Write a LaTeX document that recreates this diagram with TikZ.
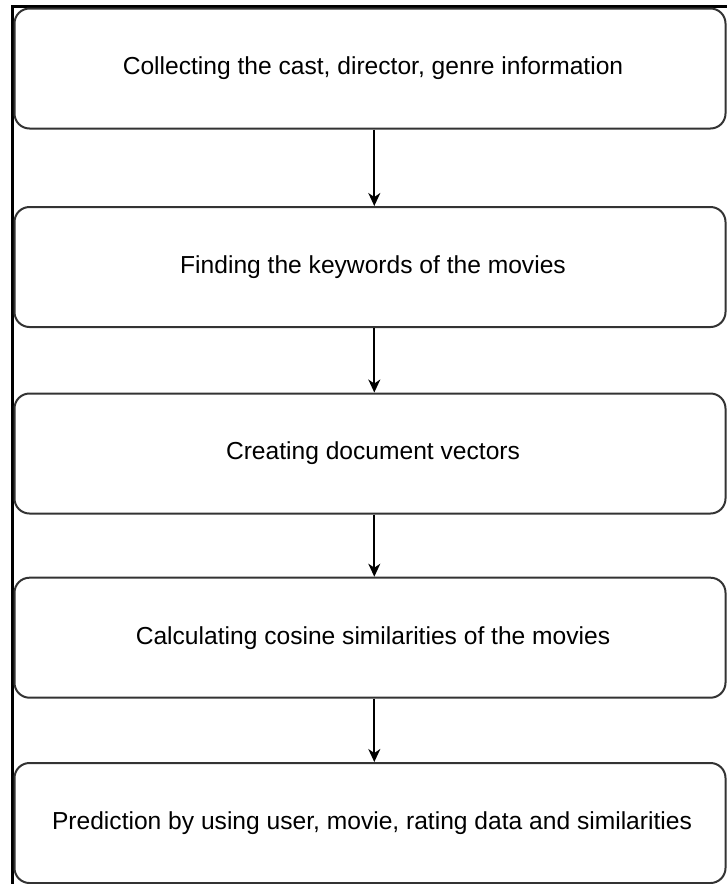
\documentclass[tikz,border=0pt]{standalone}
\usepackage{fontspec}
\setmainfont{Liberation Sans}
\usetikzlibrary{arrows.meta}
\begin{document}
\begin{tikzpicture}[x=1pt,y=-1pt,
  stepbox/.style={draw=black!80, line width=2pt, rounded corners=15pt,
    minimum width=711pt, minimum height=120pt, inner sep=0pt,
    font=\fontsize{24.6}{29}\selectfont},
  flow/.style={draw=black, line width=1.7pt,
    -{Stealth[length=13pt,width=12pt,inset=4pt]}},
  frameline/.style={draw=black, line width=2.8pt}]
  \useasboundingbox (0,0) rectangle (727,884);
  \fill[white] (0,0) rectangle (727,884);

  % outer frame (left and top edges)
  \coordinate (fb) at (12.7,886);
  \coordinate (ft) at (12.7,6.7);
  \coordinate (fr) at (728,6.7);
  \draw[frameline] (fb) -- (ft) -- (fr);

  % process steps
  \node[stepbox] (s1) at (370,68.5)  {\hspace*{6pt}Collecting the cast, director, genre information};
  \node[stepbox] (s2) at (370,267)   {\hspace*{6pt}Finding the keywords of the movies};
  \node[stepbox] (s3) at (370,453.5) {\hspace*{6pt}Creating document vectors};
  \node[stepbox] (s4) at (370,637.7) {\hspace*{6pt}Calculating cosine similarities of the movies};
  \node[stepbox] (s5) at (370,823)   {\hspace*{4pt}Prediction by using user, movie, rating data and similarities};

  % connectors
  \coordinate (ax) at (374.3,0);
  \draw[flow] (s1.south -| ax) -- (s2.north -| ax);
  \draw[flow] (s2.south -| ax) -- (s3.north -| ax);
  \draw[flow] (s3.south -| ax) -- (s4.north -| ax);
  \draw[flow] (s4.south -| ax) -- (s5.north -| ax);
\end{tikzpicture}
\end{document}
